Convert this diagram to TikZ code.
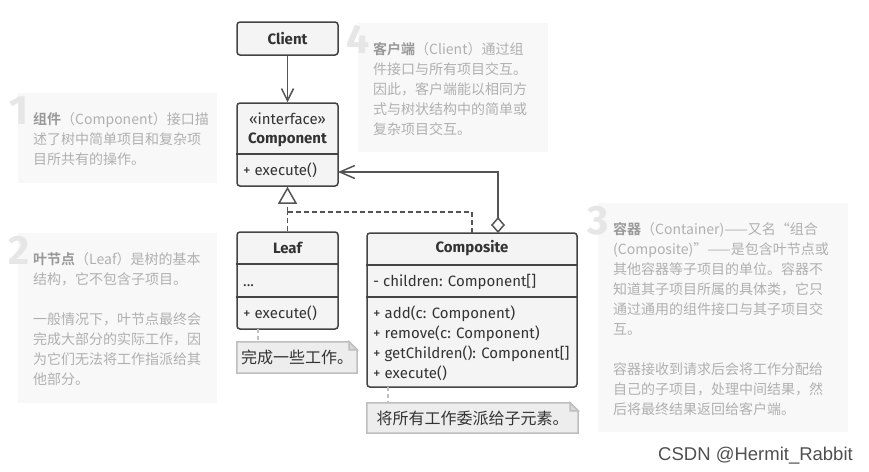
\documentclass[tikz,border=0pt]{standalone}
\usepackage{fontspec}
\setmainfont{Fira Sans}
\newfontfamily\cjk{Noto Sans CJK SC}[BoldFont={Noto Sans CJK SC Bold}]
\newfontfamily\wmfont{Liberation Sans}
\usetikzlibrary{arrows.meta}
\definecolor{boxfill}{HTML}{F4F4F4}
\definecolor{boxline}{HTML}{444444}
\definecolor{connline}{HTML}{555555}
\definecolor{annfill}{HTML}{F8F8F8}
\definecolor{anntext}{HTML}{B0B0B0}
\definecolor{annbold}{HTML}{999999}
\definecolor{numcol}{HTML}{E6E6E6}
\definecolor{notefill}{HTML}{EDEDED}
\definecolor{noteline}{HTML}{BEBEBE}
\definecolor{txt}{HTML}{333333}
\definecolor{wmcol}{HTML}{505050}
\tikzset{
  umlbox/.style={draw=boxline, fill=boxfill, line width=1.5pt, rounded corners=3pt, inner sep=0pt},
  divider/.style={draw=boxline, line width=1.5pt},
  title/.style={font=\bfseries\fontsize{15}{17}\selectfont, text=txt, inner sep=0pt},
  member/.style={font=\fontsize{15}{17}\selectfont, text=txt, inner sep=0pt, anchor=base west},
  conn/.style={draw=connline, line width=1.5pt},
  dashconn/.style={draw=connline, line width=1.5pt, dash pattern=on 5pt off 3pt},
  annbox/.style={fill=annfill, draw=none, inner sep=0pt},
  anntxt/.style={font=\cjk\fontsize{14}{20}\selectfont, text=anntext, align=left, anchor=north west, inner sep=0pt},
  bignum/.style={font=\bfseries\fontsize{41}{41}\selectfont, text=numcol, inner sep=0pt, anchor=base east},
  notebox/.style={draw=none, inner sep=0pt, font=\cjk\fontsize{16}{18}\selectfont, text=txt},
  noteshape/.style={draw=noteline, fill=notefill, line width=1.5pt},
  noteconn/.style={draw=noteline, line width=1.5pt, dash pattern=on 4pt off 3pt},
}
\begin{document}
\begin{tikzpicture}[x=1pt,y=-1pt]
\path[use as bounding box, fill=white] (0,0) rectangle (869,471);

% annotation boxes
\node[annbox, minimum width=199pt, minimum height=90pt] (ann1) at (117.5,138) {};
\node[annbox, minimum width=199pt, minimum height=170pt] (ann2) at (117.5,318) {};
\node[annbox, minimum width=190pt, minimum height=129pt] (ann4) at (453,87.5) {};
\node[annbox, minimum width=250pt, minimum height=229pt] (ann3) at (723,317.5) {};

\node[bignum] (n1) at (29,124) {1};
\node[bignum] (n2) at (30,264) {2};
\node[bignum] (n4) at (370,53) {4};
\node[bignum] (n3) at (609,234) {3};

\node[anntxt] (t1) at (33,112) {{\color{annbold}\bfseries 组件}（Component）接口描\\述了树中简单项目和复杂项\\目所共有的操作。};
\node[anntxt] (t2) at (33,252) {{\color{annbold}\bfseries 叶节点}（Leaf）是树的基本\\结构，它不包含子项目。\\[20pt]一般情况下，叶节点最终会\\完成大部分的实际工作，因\\为它们无法将工作指派给其\\他部分。};
\node[anntxt] (t4) at (373,42) {{\color{annbold}\bfseries 客户端}（Client）通过组\\件接口与所有项目交互。\\因此，客户端能以相同方\\式与树状结构中的简单或\\复杂项目交互。};
\node[anntxt] (t3) at (613,222) {{\color{annbold}\bfseries 容器}（Container)——又名“组合\\(Composite)”——是包含叶节点或\\其他容器等子项目的单位。容器不\\知道其子项目所属的具体类，它只\\通过通用的组件接口与其子项目交\\互。\\[20pt]容器接收到请求后会将工作分配给\\自己的子项目，处理中间结果，然\\后将最终结果返回给客户端。};

% UML boxes
\node[umlbox, minimum width=101pt, minimum height=33pt] (client) at (287.5,38.5) {};
\node[title] (clientname) at (client) {Client};

\node[umlbox, minimum width=101pt, minimum height=83pt] (comp) at (287.5,144.5) {};
\draw[divider] (comp.west |- 0,154) -- (comp.east |- 0,154);
\node[font=\fontsize{15}{17}\selectfont, text=txt, inner sep=0pt] (stereo) at (287.5,119) {«interface»};
\node[title] (compname) at (287.5,140) {Component};
\node[member] (compm) at (243,175) {+ execute()};

\node[umlbox, minimum width=101pt, minimum height=97pt] (leaf) at (287.5,280.5) {};
\draw[divider] (leaf.west |- 0,264) -- (leaf.east |- 0,264);
\draw[divider] (leaf.west |- 0,297) -- (leaf.east |- 0,297);
\node[title] (leafname) at (287.5,248) {Leaf};
\node[member] (leaff) at (243,286) {...};
\node[member] (leafm) at (243,318) {+ execute()};

\node[umlbox, minimum width=210pt, minimum height=154pt] (composite) at (472,310) {};
\draw[divider] (composite.west |- 0,265) -- (composite.east |- 0,265);
\draw[divider] (composite.west |- 0,297) -- (composite.east |- 0,297);
\node[title] (compositename) at (472,248) {Composite};
\node[member] (cf) at (373,286) {- children: Component[]};
\node[member] (cm1) at (373,318) {+ add(c: Component)};
\node[member] (cm2) at (373,338) {+ remove(c: Component)};
\node[member] (cm3) at (373,358) {+ getChildren(): Component[]};
\node[member] (cm4) at (373,378) {+ execute()};

% notes
\node[notebox, minimum width=120pt, minimum height=31pt] (note1) at (297,357.5) {};
\draw[noteshape] (note1.north west) -- ([xshift=-8pt]note1.north east) -- ([yshift=-8pt]note1.north east) -- (note1.south east) -- (note1.south west) -- cycle;
\draw[noteshape, fill=noteline!60] ([xshift=-8pt]note1.north east) -- ([xshift=-8pt,yshift=-8pt]note1.north east) -- ([yshift=-8pt]note1.north east) -- cycle;
\node[notebox] (note1t) at (note1) {完成一些工作。};

\node[notebox, minimum width=211pt, minimum height=30pt] (note2) at (472.5,418) {};
\draw[noteshape] (note2.north west) -- ([xshift=-8pt]note2.north east) -- ([yshift=-8pt]note2.north east) -- (note2.south east) -- (note2.south west) -- cycle;
\draw[noteshape, fill=noteline!60] ([xshift=-8pt]note2.north east) -- ([xshift=-8pt,yshift=-8pt]note2.north east) -- ([yshift=-8pt]note2.north east) -- cycle;
\node[notebox] (note2t) at (note2) {将所有工作委派给子元素。};

% connectors
\draw[conn, -{Straight Barb[length=12pt,width=12pt]}] (client) -- (comp);

\coordinate (aggstart) at (498,233);
\coordinate (aggend) at (338,172);
\draw[conn, {Diamond[open,length=16pt,width=14pt]}-{Straight Barb[length=15pt,width=13pt]}] (aggstart) |- (aggend);

\coordinate (gjoin) at (287.5,212);
\coordinate (cjoin) at (472,233);
\draw[dashconn] (leaf.north) -- (gjoin);
\draw[dashconn] (cjoin) |- (gjoin);
\draw[dashconn, -{Triangle[open,length=17pt,width=19pt]}] (gjoin) -- (comp.south);

\coordinate (l1) at (258,329);
\draw[noteconn] (l1) -- (l1 |- note1.north);
\coordinate (l2) at (388,387);
\draw[noteconn] (l2) -- (l2 |- note2.north);

\node[font=\wmfont\fontsize{18.5}{18.5}\selectfont, text=wmcol, anchor=base east, inner sep=0pt] (wm) at (853,460) {CSDN @Hermit\_Rabbit};
\end{tikzpicture}
\end{document}
